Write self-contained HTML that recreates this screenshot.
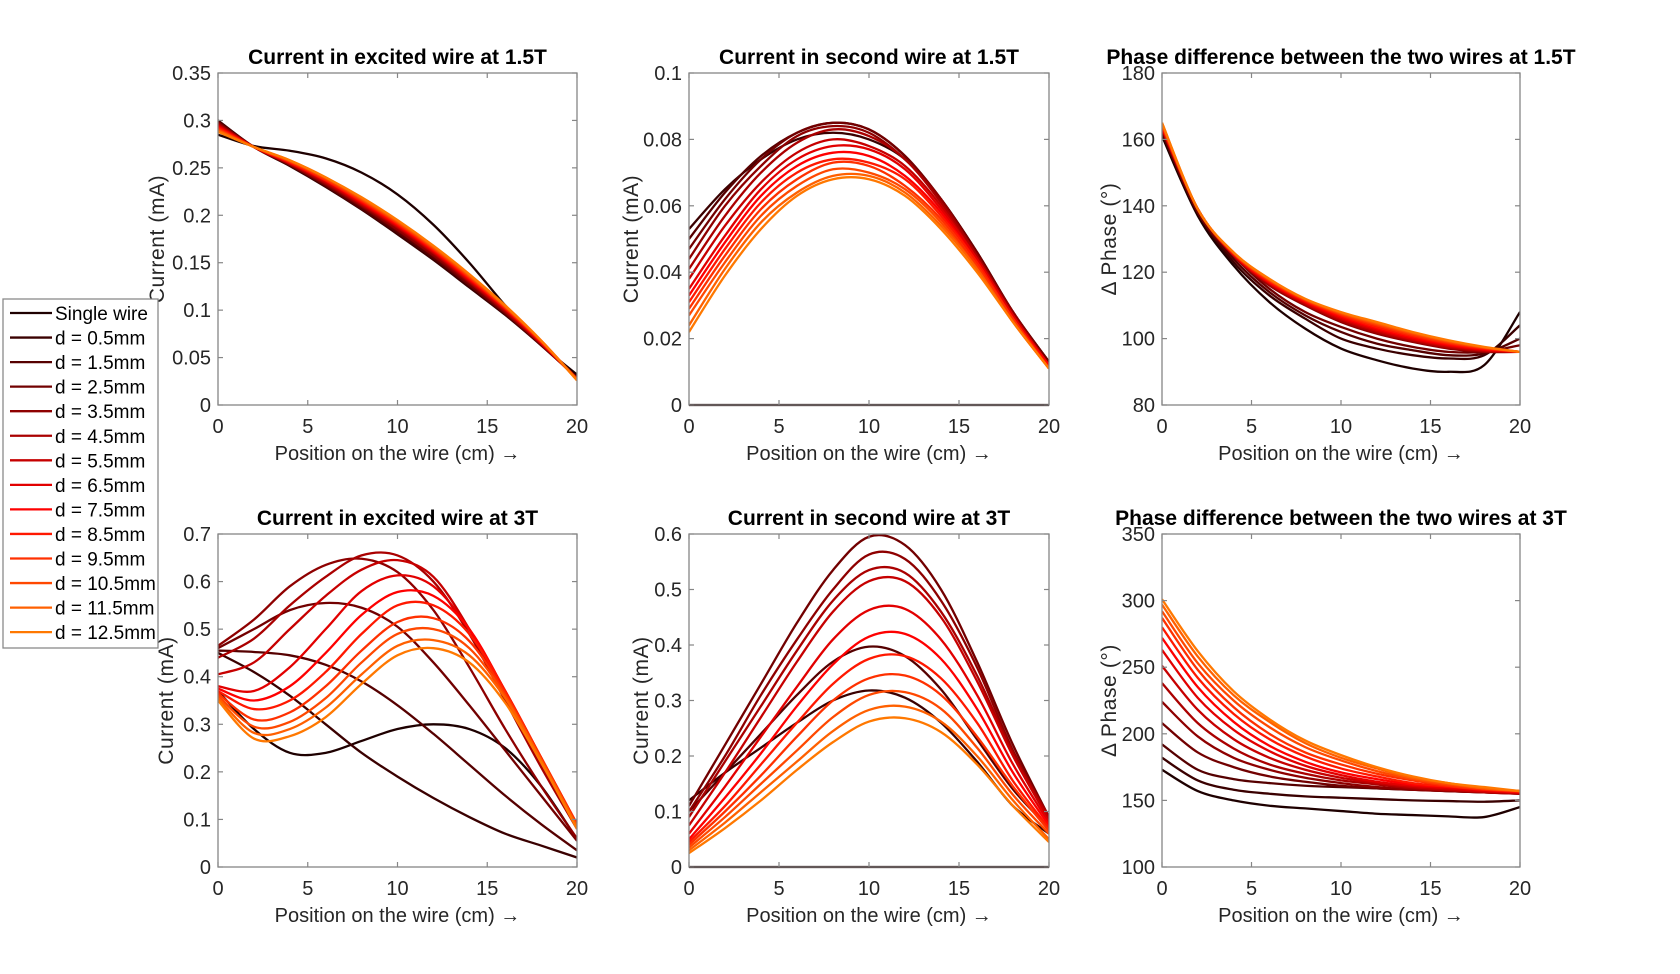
<!DOCTYPE html>
<html><head><meta charset="utf-8"><style>
body{margin:0;background:#fff;}
svg{display:block;font-family:"Liberation Sans",Arial,sans-serif;}
</style></head><body>
<svg id="fig" width="1680" height="974" viewBox="0 0 1680 974"></svg>
<script>
// ---- data ----
const xs = [0,2,4,6,8,10,12,14,16,18,20];
const seriesNames = ["Single wire","d = 0.5mm","d = 1.5mm","d = 2.5mm","d = 3.5mm","d = 4.5mm","d = 5.5mm","d = 6.5mm","d = 7.5mm","d = 8.5mm","d = 9.5mm","d = 10.5mm","d = 11.5mm","d = 12.5mm"];
const xTicks = [0,5,10,15,20];

const excited15 = [
[0.285,0.273,0.268,0.260,0.245,0.222,0.190,0.150,0.105,0.064,0.032],
[0.300,0.272,0.252,0.230,0.206,0.180,0.153,0.124,0.095,0.063,0.029],
[0.299,0.272,0.253,0.231,0.207,0.182,0.155,0.126,0.096,0.063,0.029],
[0.298,0.272,0.253,0.232,0.209,0.184,0.157,0.127,0.097,0.064,0.028],
[0.297,0.272,0.254,0.233,0.210,0.185,0.158,0.129,0.098,0.064,0.028],
[0.296,0.272,0.254,0.234,0.211,0.187,0.160,0.130,0.099,0.065,0.028],
[0.295,0.272,0.255,0.235,0.212,0.188,0.161,0.131,0.100,0.065,0.028],
[0.294,0.272,0.255,0.236,0.213,0.189,0.162,0.132,0.101,0.066,0.027],
[0.293,0.272,0.256,0.237,0.214,0.190,0.163,0.133,0.102,0.066,0.027],
[0.292,0.272,0.256,0.237,0.215,0.191,0.164,0.134,0.102,0.067,0.027],
[0.291,0.272,0.257,0.238,0.216,0.192,0.165,0.135,0.103,0.067,0.027],
[0.290,0.272,0.257,0.239,0.217,0.193,0.166,0.136,0.104,0.068,0.027],
[0.289,0.272,0.258,0.240,0.218,0.194,0.167,0.137,0.104,0.068,0.026],
[0.288,0.272,0.258,0.240,0.219,0.195,0.168,0.138,0.105,0.068,0.026]];
const excited15Ticks = [0,0.05,0.1,0.15,0.2,0.25,0.3,0.35];

const second15 = [
[0,0,0,0,0,0,0,0,0,0,0],
[0.053,0.065,0.074,0.080,0.082,0.080,0.074,0.062,0.046,0.028,0.013],
[0.050,0.064,0.075,0.082,0.085,0.083,0.075,0.062,0.046,0.028,0.013],
[0.047,0.062,0.074,0.082,0.085,0.083,0.075,0.062,0.046,0.028,0.013],
[0.044,0.060,0.072,0.081,0.084,0.082,0.074,0.062,0.045,0.028,0.012],
[0.041,0.057,0.070,0.079,0.083,0.081,0.074,0.061,0.045,0.027,0.012],
[0.038,0.054,0.067,0.076,0.080,0.078,0.072,0.060,0.044,0.027,0.012],
[0.035,0.051,0.065,0.074,0.078,0.077,0.071,0.059,0.044,0.027,0.012],
[0.033,0.049,0.063,0.072,0.076,0.075,0.069,0.058,0.043,0.026,0.012],
[0.031,0.047,0.061,0.070,0.074,0.073,0.068,0.057,0.043,0.026,0.011],
[0.029,0.045,0.059,0.068,0.073,0.072,0.066,0.056,0.042,0.026,0.011],
[0.027,0.043,0.057,0.066,0.071,0.070,0.065,0.055,0.041,0.025,0.011],
[0.024,0.041,0.055,0.064,0.069,0.069,0.064,0.054,0.041,0.025,0.011],
[0.022,0.039,0.053,0.063,0.068,0.068,0.063,0.053,0.040,0.025,0.011]];
const second15Ticks = [0,0.02,0.04,0.06,0.08,0.1];

const phase15 = [
[161,137,122,111,103,97,93.5,91,90,92,108],
[162,138,123,113,106,100,97,95,94,95,104],
[162,138,124,114,107,102,98.5,96.5,95,95.5,100],
[163,138,125,115,108,103.5,100,97.5,96,96,98],
[163,139,125,116,110,105,101.5,99,97,96,96],
[163,139,125,116.3,110.3,105.4,101.9,99.3,97.3,96.2,96],
[163.5,139,125.2,116.6,110.6,105.8,102.3,99.6,97.6,96.4,96],
[163.5,139,125.3,116.8,110.9,106.2,102.7,99.9,97.9,96.6,96],
[164,139,125.5,117,111.2,106.6,103.1,100.3,98.2,96.8,96],
[164,139,125.6,117.3,111.4,107,103.5,100.7,98.5,97,96],
[164.5,139,125.7,117.5,111.6,107.3,104,101.1,98.8,97.2,96],
[164.5,139,125.8,117.7,111.8,107.6,104.4,101.5,99.1,97.3,96],
[165,139,125.9,117.9,111.9,107.8,104.7,101.8,99.3,97.4,96],
[165,139,126,118,112,108,105,102,99.5,97.5,96]];
const phase15Ticks = [80,100,120,140,160,180];

const excited3 = [
[0.37,0.29,0.24,0.24,0.265,0.29,0.30,0.29,0.25,0.17,0.058],
[0.45,0.41,0.36,0.30,0.24,0.19,0.145,0.105,0.07,0.045,0.02],
[0.455,0.452,0.445,0.425,0.39,0.34,0.28,0.215,0.15,0.09,0.035],
[0.46,0.50,0.54,0.555,0.545,0.505,0.43,0.34,0.245,0.15,0.055],
[0.465,0.52,0.59,0.635,0.648,0.62,0.54,0.42,0.29,0.17,0.06],
[0.44,0.48,0.55,0.61,0.655,0.655,0.60,0.49,0.35,0.21,0.08],
[0.405,0.43,0.50,0.57,0.625,0.645,0.61,0.50,0.36,0.22,0.085],
[0.38,0.37,0.42,0.50,0.58,0.613,0.59,0.50,0.37,0.23,0.09],
[0.375,0.35,0.38,0.45,0.53,0.578,0.57,0.50,0.37,0.23,0.09],
[0.37,0.332,0.35,0.41,0.49,0.55,0.55,0.49,0.37,0.23,0.09],
[0.365,0.31,0.325,0.38,0.455,0.515,0.523,0.475,0.365,0.23,0.09],
[0.36,0.295,0.305,0.355,0.43,0.49,0.50,0.46,0.36,0.225,0.085],
[0.355,0.282,0.29,0.335,0.405,0.465,0.477,0.445,0.355,0.225,0.085],
[0.35,0.27,0.275,0.315,0.385,0.445,0.46,0.43,0.345,0.22,0.08]];
const excited3Ticks = [0,0.1,0.2,0.3,0.4,0.5,0.6,0.7];

const second3 = [
[0,0,0,0,0,0,0,0,0,0,0],
[0.12,0.17,0.215,0.26,0.30,0.318,0.305,0.26,0.19,0.11,0.06],
[0.10,0.17,0.24,0.31,0.37,0.397,0.38,0.32,0.23,0.14,0.07],
[0.11,0.22,0.33,0.44,0.535,0.595,0.58,0.50,0.37,0.22,0.09],
[0.10,0.20,0.31,0.41,0.50,0.563,0.555,0.48,0.36,0.21,0.09],
[0.09,0.19,0.29,0.39,0.48,0.535,0.53,0.46,0.345,0.205,0.09],
[0.075,0.17,0.27,0.37,0.46,0.515,0.515,0.45,0.335,0.20,0.085],
[0.06,0.145,0.235,0.325,0.41,0.463,0.465,0.41,0.31,0.185,0.08],
[0.05,0.125,0.205,0.29,0.365,0.415,0.42,0.375,0.285,0.17,0.075],
[0.045,0.11,0.185,0.26,0.33,0.375,0.38,0.34,0.26,0.155,0.07],
[0.04,0.10,0.165,0.235,0.30,0.34,0.345,0.31,0.235,0.145,0.065],
[0.035,0.09,0.15,0.21,0.27,0.31,0.315,0.285,0.215,0.13,0.06],
[0.03,0.08,0.135,0.19,0.245,0.283,0.289,0.262,0.2,0.12,0.05],
[0.025,0.07,0.12,0.175,0.225,0.262,0.268,0.243,0.185,0.11,0.045]];
const second3Ticks = [0,0.1,0.2,0.3,0.4,0.5,0.6];

const phase3 = [
[173,157,150,146,144,142,140,139,138,137.5,145],
[182,165,158,155,153,152,151,150,149.5,149,150],
[192,173,166,163,161,160,159,158,157,156,155.5],
[208,186,175,168,164,161,159,158,157,156,155],
[224,198,182,173,167,163,160,158,157,156,155],
[238,208,189,177,170,165,162,159,157.5,156,155],
[251,218,196,182,173,167,163,160,158,156.5,155.5],
[263,227,203,187,176,169,164,161,159,157,156],
[272,235,209,191,179,171,166,162,160,158,156],
[280,242,215,196,183,174,168,163,160.5,158,156.5],
[287,248,220,200,186,177,170,165,161,158.5,157],
[292,253,225,205,190,180,172,166,162,159,157],
[297,258,229,209,193,182,174,167,163,159,157],
[301,262,232,211,195,184,175,168,163,160,157]];
const phase3Ticks = [100,150,200,250,300,350];

// ---- styles (not data) ----
const colors = ["#1e0000","#3a0000","#560000","#720000","#8e0000","#aa0000","#c60000","#e20000","#fe0000","#ff1800","#ff3000","#ff4800","#ff6000","#ff7800"];

const NS="http://www.w3.org/2000/svg";
const svg=document.getElementById('fig');
function mk(tag,attrs,parent){const e=document.createElementNS(NS,tag);for(const k in attrs)e.setAttribute(k,attrs[k]);(parent||svg).appendChild(e);return e;}

function smoothPath(pts){
  let d="M"+pts[0][0].toFixed(2)+","+pts[0][1].toFixed(2);
  for(let i=0;i<pts.length-1;i++){
    const p0=pts[Math.max(0,i-1)],p1=pts[i],p2=pts[i+1],p3=pts[Math.min(pts.length-1,i+2)];
    const c1=[p1[0]+(p2[0]-p0[0])/6,p1[1]+(p2[1]-p0[1])/6];
    const c2=[p2[0]-(p3[0]-p1[0])/6,p2[1]-(p3[1]-p1[1])/6];
    d+=" C"+c1[0].toFixed(2)+","+c1[1].toFixed(2)+" "+c2[0].toFixed(2)+","+c2[1].toFixed(2)+" "+p2[0].toFixed(2)+","+p2[1].toFixed(2);
  }
  return d;
}

function panel(id,L,T,R,B,title,ylabel,yticks,series,ylabX){
  const g=mk('g',{});
  
  
  const ymin=yticks[0],ymax=yticks[yticks.length-1];
  const sx=v=>L+(v-0)/(20-0)*(R-L);
  const sy=v=>B-(v-ymin)/(ymax-ymin)*(B-T);
  const clipId=id+'-clip';
  const cp=mk('clipPath',{id:clipId},g);mk('rect',{x:L,y:T-2,width:R-L,height:B-T+4},cp);
  const lines=mk('g',{'clip-path':'url(#'+clipId+')'},g);
  
  
  series.forEach((vals,k)=>{
    const pts=vals.map((v,i)=>[sx(xs[i]),sy(v)]);
    const p=mk('path',{d:smoothPath(pts),fill:'none',stroke:colors[k],'stroke-width':2.3,'stroke-linejoin':'round'},lines);
    
    
  });
  const box=mk('rect',{x:L,y:T,width:R-L,height:B-T,fill:'none',stroke:'#868686','stroke-width':1.3},g);
  
  
  xTicks.forEach(t=>{
    const x=sx(t);
    mk('line',{x1:x,y1:B,x2:x,y2:B-5,stroke:'#868686','stroke-width':1.2},g);
    mk('line',{x1:x,y1:T,x2:x,y2:T+5,stroke:'#868686','stroke-width':1.2},g);
    const tx=mk('text',{x:x,y:B+28,'text-anchor':'middle','font-size':20,fill:'#262626'},g);
    tx.textContent=t;
    
    
  });
  yticks.forEach(t=>{
    const y=sy(t);
    mk('line',{x1:L,y1:y,x2:L+5,y2:y,stroke:'#868686','stroke-width':1.2},g);
    mk('line',{x1:R,y1:y,x2:R-5,y2:y,stroke:'#868686','stroke-width':1.2},g);
    const ty=mk('text',{x:L-7,y:y+7,'text-anchor':'end','font-size':20,fill:'#262626'},g);
    ty.textContent=String(t);
    
    
  });
  const tt=mk('text',{x:(L+R)/2,y:T-9,'text-anchor':'middle','font-size':21,'font-weight':'bold',fill:'#000'},g);
  tt.textContent=title;
  
  
  const xl=mk('text',{x:(L+R)/2,y:B+55,'text-anchor':'middle','font-size':20,fill:'#262626'},g);
  xl.textContent='Position on the wire (cm) \u2192';
  
  
  const cy=(T+B)/2;
  const yl=mk('text',{x:ylabX,y:cy,'text-anchor':'middle','font-size':21,'letter-spacing':'0.6',fill:'#262626',transform:'rotate(-90 '+ylabX+' '+cy+')'},g);
  yl.textContent=ylabel;
  
  
}

const C1=[218,577],C2=[689,1049],C3=[1162,1520];
const R1=[73,405],R2=[534,867];
panel('excited-wire-1p5t',C1[0],R1[0],C1[1],R1[1],'Current in excited wire at 1.5T','Current (mA)',excited15Ticks,excited15,164);
panel('second-wire-1p5t',C2[0],R1[0],C2[1],R1[1],'Current in second wire at 1.5T','Current (mA)',second15Ticks,second15,638);
panel('phase-1p5t',C3[0],R1[0],C3[1],R1[1],'Phase difference between the two wires at 1.5T','\u0394 Phase (\u00B0)',phase15Ticks,phase15,1116);
panel('excited-wire-3t',C1[0],R2[0],C1[1],R2[1],'Current in excited wire at 3T','Current (mA)',excited3Ticks,excited3,173);
panel('second-wire-3t',C2[0],R2[0],C2[1],R2[1],'Current in second wire at 3T','Current (mA)',second3Ticks,second3,648);
panel('phase-3t',C3[0],R2[0],C3[1],R2[1],'Phase difference between the two wires at 3T','\u0394 Phase (\u00B0)',phase3Ticks,phase3,1116);

const lg=mk('g',{});


mk('rect',{x:3,y:299,width:155,height:349,fill:'#fff',stroke:'#8a8a8a','stroke-width':1.3},lg);
seriesNames.forEach((n,k)=>{
  const y=313+k*24.55;
  const e=mk('g',{},lg);
  
  
  mk('line',{x1:10,y1:y,x2:52,y2:y,stroke:colors[k],'stroke-width':2.3},e);
  const t=mk('text',{x:55,y:y+7,'font-size':19,fill:'#000'},e);
  t.textContent=n;
});
</script>
</body></html>
